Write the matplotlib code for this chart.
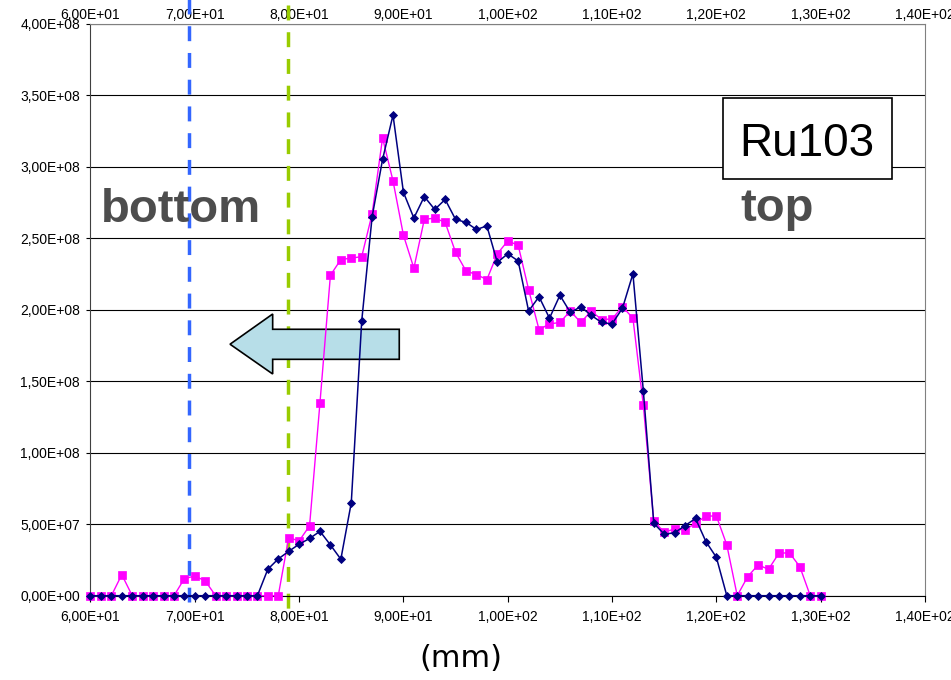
import numpy as np
import matplotlib
matplotlib.use('Agg')
import matplotlib.pyplot as plt
from matplotlib.patches import Polygon, Rectangle
from matplotlib.ticker import FuncFormatter, MultipleLocator

plt.rcParams['font.family'] = ['Liberation Sans', 'DejaVu Sans']

# position along the column (mm), one sample per mm
x_mm = np.arange(60, 131)

# navy diamonds
series_a = [0, 0, 0, 0, 0, 0, 0, 0, 0, 0,
            0, 0, 0, 0, 0, 0, 0, 1.85e7, 2.57e7, 3.1e7,
            3.6e7, 4.0e7, 4.5e7, 3.55e7, 2.55e7, 6.5e7, 1.92e8, 2.65e8, 3.05e8, 3.36e8,
            2.82e8, 2.64e8, 2.79e8, 2.70e8, 2.77e8, 2.63e8, 2.61e8, 2.56e8, 2.585e8, 2.33e8,
            2.39e8, 2.34e8, 1.99e8, 2.09e8, 1.94e8, 2.10e8, 1.98e8, 2.02e8, 1.96e8, 1.91e8,
            1.90e8, 2.01e8, 2.25e8, 1.43e8, 5.06e7, 4.3e7, 4.4e7, 4.9e7, 5.4e7, 3.78e7,
            2.68e7, 0, 0, 0, 0, 0, 0, 0, 0, 0,
            0]

# magenta squares
series_b = [0, 0, 0, 1.47e7, 0, 0, 0, 0, 0, 1.19e7,
            1.38e7, 1.03e7, 0, 0, 0, 0, 0, 0, 0, 4.06e7,
            3.83e7, 4.88e7, 1.35e8, 2.24e8, 2.35e8, 2.36e8, 2.37e8, 2.67e8, 3.2e8, 2.9e8,
            2.52e8, 2.29e8, 2.63e8, 2.64e8, 2.61e8, 2.40e8, 2.27e8, 2.245e8, 2.21e8, 2.39e8,
            2.48e8, 2.45e8, 2.14e8, 1.86e8, 1.90e8, 1.91e8, 1.99e8, 1.91e8, 1.99e8, 1.93e8,
            1.935e8, 2.02e8, 1.94e8, 1.33e8, 5.2e7, 4.45e7, 4.66e7, 4.6e7, 5.06e7, 5.57e7,
            5.57e7, 3.55e7, 0, 1.33e7, 2.15e7, 1.85e7, 2.97e7, 3.0e7, 2.03e7, 0,
            0]

# marker positions (mm)
bottom_mark = 69.4
top_mark = 78.9

fmt = FuncFormatter(lambda v, p: '{:.2E}'.format(v).replace('.', ','))

fig = plt.figure(figsize=(9.51, 6.8), dpi=100)
ax = fig.add_axes([0.09516, 0.12397, 0.87750, 0.84147])

ax.set_xlim(60, 140)
ax.set_ylim(0, 4e8)
ax.xaxis.set_major_locator(MultipleLocator(10))
ax.yaxis.set_major_locator(MultipleLocator(5e7))
ax.xaxis.set_major_formatter(fmt)
ax.yaxis.set_major_formatter(fmt)
ax.tick_params(axis='x', direction='out', length=4, width=0.8, pad=6, labelsize=10)
ax.tick_params(axis='y', direction='out', length=3, width=0.8, pad=4.5, labelsize=10)

ax.grid(axis='y', color='black', linewidth=0.8, zorder=0)
ax.set_axisbelow(True)
ax.spines['top'].set_color('#808080')
ax.spines['right'].set_color('#808080')
ax.spines['left'].set_color('#404040')
ax.spines['bottom'].set_color('black')

# labels repeated along the top
sec = ax.secondary_xaxis('top')
sec.xaxis.set_major_locator(MultipleLocator(10))
sec.xaxis.set_major_formatter(fmt)
sec.tick_params(length=0, pad=1, labelsize=10)
sec.spines['top'].set_visible(False)

# dashed marker lines reaching outside the plot area
tr = ax.get_xaxis_transform()
ax.plot([bottom_mark, bottom_mark], [1.045, -0.011], transform=tr, clip_on=False,
        color='#3366FF', linewidth=2.5, dashes=(4.3, 3.4), zorder=2)
ax.plot([top_mark, top_mark], [1.032, -0.030], transform=tr, clip_on=False,
        color='#99CC00', linewidth=2.5, dashes=(4.3, 3.4), zorder=2)

# block arrow pointing to the bottom
arrow = Polygon([(0.1672, 0.4395), (0.2183, 0.4923), (0.2183, 0.4656), (0.3700, 0.4656),
                 (0.3700, 0.4131), (0.2183, 0.4131), (0.2183, 0.3875)],
                closed=True, transform=ax.transAxes, facecolor='#B7DEE8',
                edgecolor='black', linewidth=1.2, zorder=3)
ax.add_patch(arrow)

ax.plot(x_mm, series_b, color='#FF00FF', linewidth=1.0, marker='s', markersize=5.5,
        markeredgewidth=0.5, zorder=4, clip_on=False)
ax.plot(x_mm, series_a, color='#000080', linewidth=1.1, marker='D', markersize=4,
        markeredgewidth=0.6, zorder=5, clip_on=False)

ax.text(0.1085, 0.6536, 'bottom', transform=ax.transAxes, ha='center', va='baseline',
        fontsize=34, fontweight='bold', color='#4D4D4D', zorder=6)
ax.text(0.8226, 0.6548, 'top', transform=ax.transAxes, ha='center', va='baseline',
        fontsize=34, fontweight='bold', color='#4D4D4D', zorder=6)

ax.add_patch(Rectangle((0.7576, 0.7277), 0.2025, 0.1416, transform=ax.transAxes,
                       facecolor='white', edgecolor='black', linewidth=1.2, zorder=6))
ax.text(0.8586, 0.7684, 'Ru103', transform=ax.transAxes, ha='center', va='baseline',
        fontsize=33, color='black', zorder=7)

fig.text(0.4848, 0.0309, '(mm)', ha='center', va='center', fontsize=22,
         family=['DejaVu Sans'])

fig.savefig('out.png', dpi=100)
